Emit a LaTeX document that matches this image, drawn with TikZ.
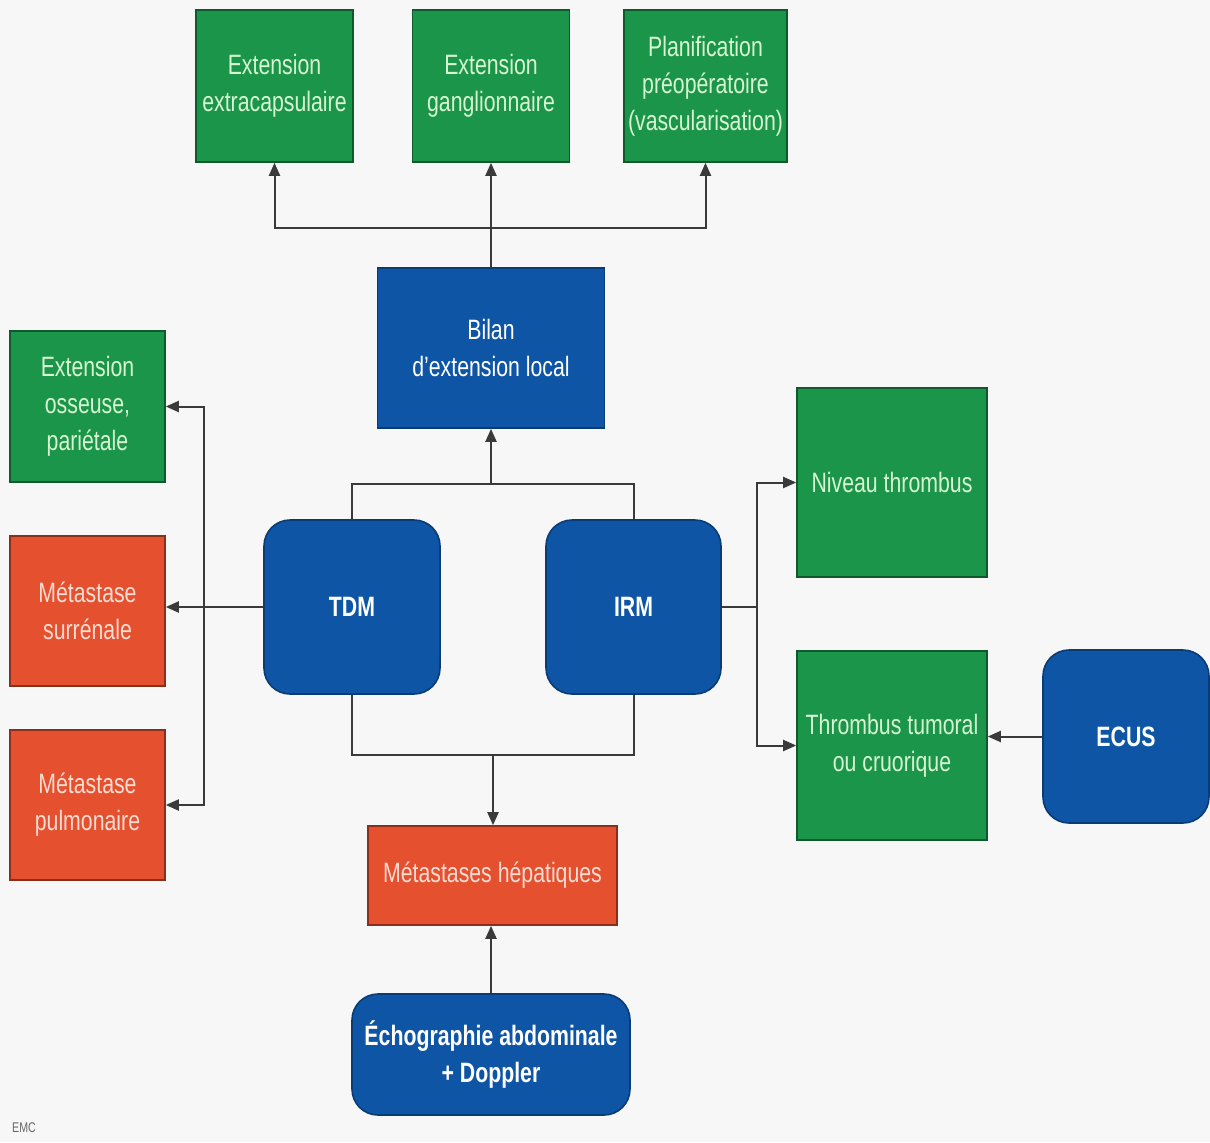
\documentclass[tikz,border=0pt]{standalone}
\usepackage{fontspec}
\setmainfont{Liberation Sans}[FakeStretch=0.76]
\usetikzlibrary{arrows.meta}
\definecolor{bg}{HTML}{F7F7F7}
\definecolor{gbox}{HTML}{1B9549}
\definecolor{gtxt}{HTML}{D6F5D2}
\definecolor{rbox}{HTML}{E5502F}
\definecolor{rtxt}{HTML}{F9DCD2}
\definecolor{bbox}{HTML}{0F55A6}
\definecolor{edge}{HTML}{3A3A3A}
\tikzset{
  base/.style={inner sep=2pt, align=center, font=\fontsize{14}{18.5}\selectfont, line width=0.8pt},
  gbx/.style={base, fill=gbox, draw=gbox!60!black, text=gtxt},
  rbx/.style={base, fill=rbox, draw=rbox!60!black, text=rtxt},
  bbx/.style={base, fill=bbox, draw=bbox!70!black, text=white},
  bround/.style={bbx, rounded corners=13pt, font=\fontsize{14}{18.5}\selectfont\bfseries},
  conn/.style={draw=edge, line width=1pt},
  arr/.style={conn, -{Triangle[length=6.5pt,width=5.5pt]}}
}
\begin{document}
\begin{tikzpicture}[x=0.5pt,y=-0.5pt]
\fill[bg] (0,0) rectangle (1210,1142);
\useasboundingbox (0,0) rectangle (1210,1142);
% top boxes
\node[gbx, minimum width=78.5pt, minimum height=76pt] (ext1) at (274.5,86) {Extension\\extracapsulaire};
\node[gbx, minimum width=78.5pt, minimum height=76pt] (ext2) at (491,86) {Extension\\ganglionnaire};
\node[gbx, minimum width=78.5pt, minimum height=76pt] (plan) at (705.5,86) {Planification\\préopératoire\\(vascularisation)};
% bilan
\node[bbx, minimum width=113.5pt, minimum height=80pt] (bilan) at (491,348) {Bilan\\d'extension local};
% TDM, IRM
\node[bround, minimum width=88pt, minimum height=87pt] (tdm) at (352,607) {TDM};
\node[bround, minimum width=87.5pt, minimum height=87pt] (irm) at (633.5,607) {IRM};
% left boxes
\node[gbx, minimum width=77.5pt, minimum height=75.5pt] (oss) at (87.5,406.5) {Extension\\osseuse,\\pariétale};
\node[rbx, minimum width=77.5pt, minimum height=75pt] (sur) at (87.5,611) {Métastase\\surrénale};
\node[rbx, minimum width=77.5pt, minimum height=75pt] (pul) at (87.5,805) {Métastase\\pulmonaire};
% right boxes
\node[gbx, minimum width=95pt, minimum height=94.5pt] (niv) at (892,482.5) {Niveau thrombus};
\node[gbx, minimum width=95pt, minimum height=94.5pt] (thr) at (892,745.5) {Thrombus tumoral\\ou cruorique};
\node[bround, minimum width=83pt, minimum height=86.5pt] (ecus) at (1126,736.5) {ECUS};
% bottom
\node[rbx, minimum width=124.5pt, minimum height=49.5pt] (hep) at (492.5,875.5) {Métastases hépatiques};
\node[bround, minimum width=139pt, minimum height=60.5pt] (echo) at (491,1054.5) {Échographie abdominale\\+ Doppler};
% logo
\node[font=\fontsize{7}{8}\selectfont, text=black!60, inner sep=0pt] (logo) at (24,1128) {EMC};
% connectors top
\coordinate (tj) at (491,228);
\draw[conn] (bilan.north) -- (tj);
\draw[arr] (tj) -| (ext1.south);
\draw[arr] (tj) -| (plan.south);
\draw[arr] (tj) -- (ext2.south);
% middle
\coordinate (mj) at (491,485);
\draw[arr] (mj) -- (bilan.south);
\draw[conn] (tdm.north) -- ++(0,-35) -| (irm.north);
% left
\coordinate (lj) at (204,607);
\draw[arr] (tdm.west) -- (tdm.west -| sur.east);
\draw[arr] (lj) |- (oss.east);
\draw[arr] (lj) |- (pul.east);
% right
\coordinate (rj) at (757,607);
\draw[conn] (irm.east) -- (rj);
\draw[arr] (rj) |- (niv.west);
\draw[arr] (rj) |- (thr.west);
\draw[arr] (ecus.west) -- (ecus.west -| thr.east);
% bottom
\coordinate (bj) at (493,754);
\draw[conn] (tdm.south) -- ++(0,60) -| (irm.south);
\draw[arr] (bj) -- (bj |- hep.north);
\draw[arr] (echo.north) -- (echo.north |- hep.south);
\end{tikzpicture}
\end{document}
